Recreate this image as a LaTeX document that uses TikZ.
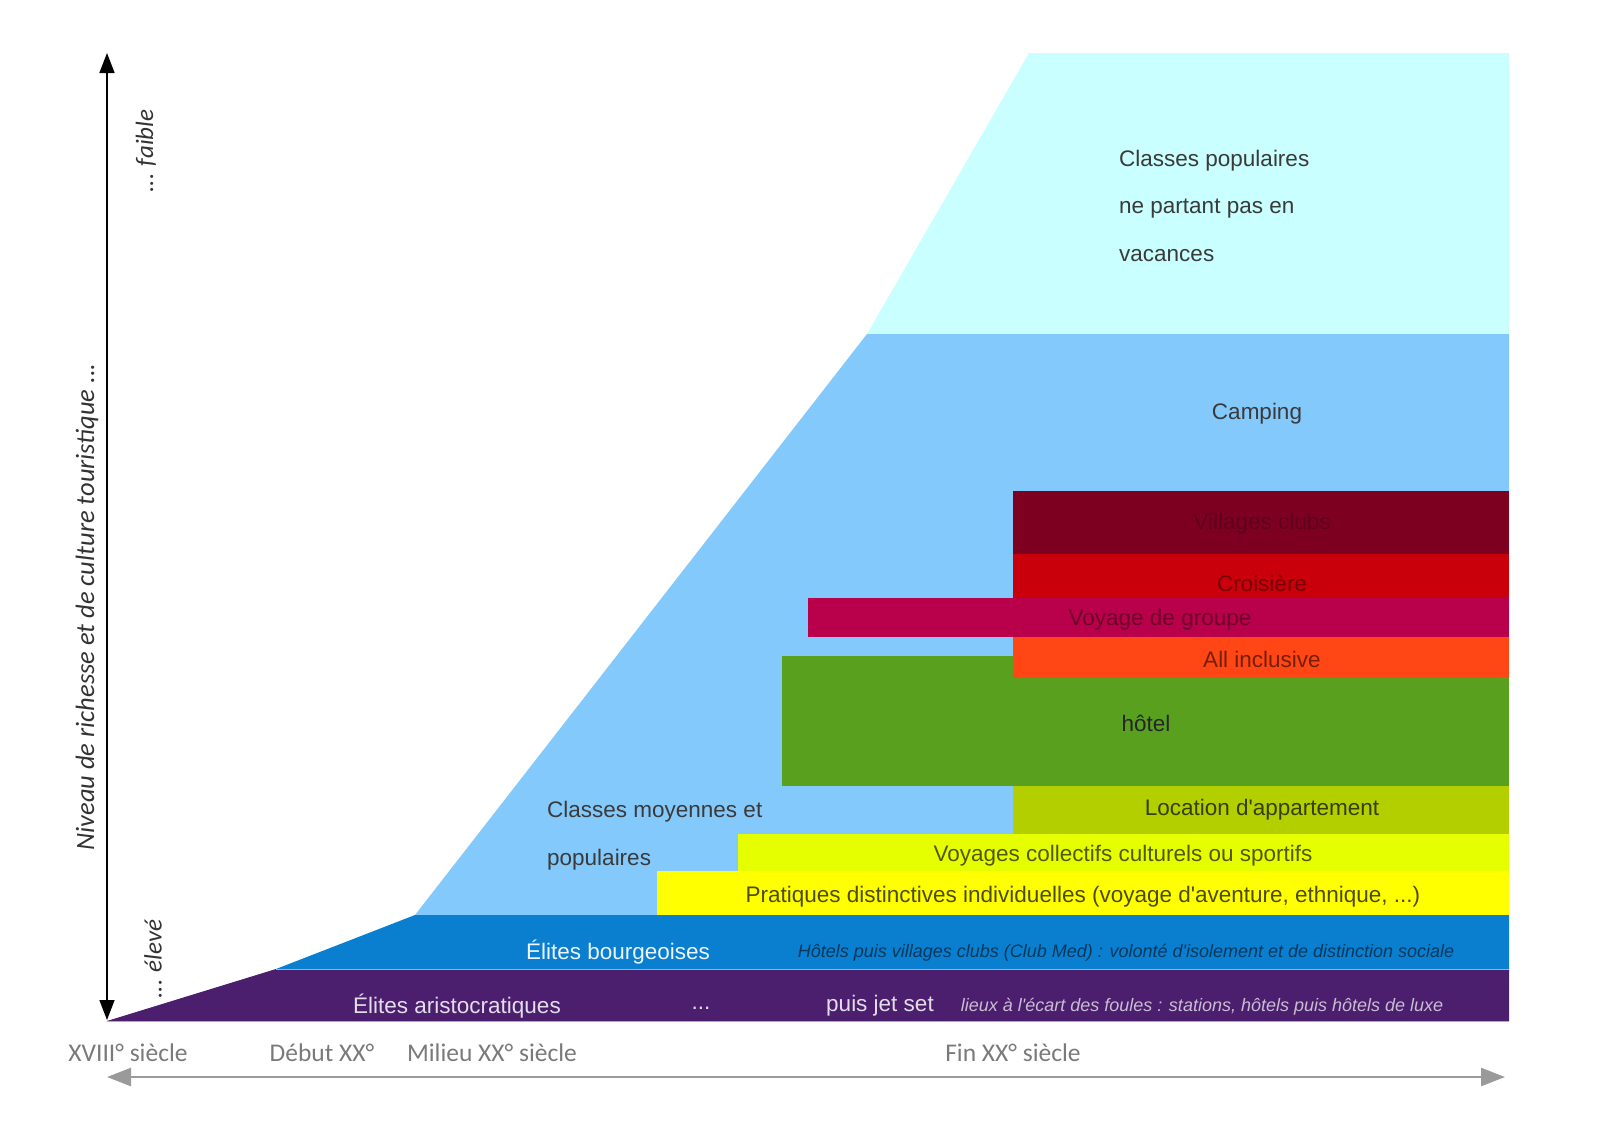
\documentclass[tikz,border=0pt]{standalone}
\usepackage{fontspec}
\setmainfont{Liberation Sans}[Ligatures=TeXOff]
\newfontfamily\axisfont{Carlito}
\usetikzlibrary{arrows.meta}
\definecolor{cCyan}{HTML}{C9FFFF}
\definecolor{cLight}{HTML}{84C9FB}
\definecolor{cBourg}{HTML}{0A7ECF}
\definecolor{cAristo}{HTML}{4B1F6E}
\definecolor{cVillage}{HTML}{7E0021}
\definecolor{cCrois}{HTML}{C9000B}
\definecolor{cGroupe}{HTML}{B9004A}
\definecolor{cAll}{HTML}{FF4614}
\definecolor{cHotel}{HTML}{58A01E}
\definecolor{cLoc}{HTML}{B3CF00}
\definecolor{cColl}{HTML}{E6FF00}
\definecolor{cPrat}{HTML}{FFFF00}
\definecolor{cText}{HTML}{3A3A3A}
\definecolor{cAxis}{HTML}{7A7A7A}
\definecolor{cArrow}{HTML}{9A9A9A}
\begin{document}
\begin{tikzpicture}[x=1pt,y=-1pt,
  lbl/.style={font=\fontsize{22.5}{27}\selectfont, inner sep=0pt, anchor=center, text=cText, yshift=-3pt},
  small/.style={font=\fontsize{18}{21}\selectfont\itshape, inner sep=0pt, anchor=center, yshift=-2pt},
  axlbl/.style={font=\axisfont\fontsize{25.5}{30}\selectfont, inner sep=0pt, anchor=center, text=cAxis, yshift=-1pt},
  vlbl/.style={font=\axisfont\itshape\fontsize{25}{30}\selectfont, inner sep=0pt, anchor=center, rotate=90, text=black!80}]
\useasboundingbox (0,0) rectangle (1600,1127);
\fill[white] (0,0) rectangle (1600,1127);
% bands
\fill[cCyan] (867,334) -- (1029,53) -- (1509,53) -- (1509,334) -- cycle;
\fill[cLight] (415,915) -- (867,334) -- (1509,334) -- (1509,915) -- cycle;
\fill[cBourg] (276,969) -- (415,915) -- (1509,915) -- (1509,969) -- cycle;
\fill[cAristo] (107,1021) -- (276,969) -- (1509,969) -- (1509,1021) -- cycle;
\draw[cAristo!40!white, line width=1pt] (276,969) -- (1509,969);
\draw[cAristo!40!white, line width=1pt] (107,1021) -- (1509,1021);
% rectangles
\fill[cHotel] (782,656) rectangle (1509,786);
\fill[cAll] (1013,636) rectangle (1509,678);
\fill[cGroupe] (808,598) rectangle (1509,637);
\fill[cCrois] (1013,554) rectangle (1509,598);
\fill[cVillage] (1013,491) rectangle (1509,554);
\fill[cLoc] (1013,786) rectangle (1509,834);
\fill[cColl] (738,834) rectangle (1509,871);
\fill[cPrat] (657,871) rectangle (1509,915);
% texts
\node[lbl, anchor=west] (cp1) at (1119,158) {Classes populaires};
\node[lbl, anchor=west] (cp2) at (1119,206) {ne partant pas en};
\node[lbl, anchor=west] (cp3) at (1119,253) {vacances};
\node[lbl] (camp) at (1257,411) {Camping};
\node[lbl, text=cVillage!75!black] (vc) at (1262,521) {Villages clubs};
\node[lbl, text=cCrois!60!black] (cr) at (1262,580) {Croisière};
\node[lbl, text=cGroupe!60!black] (vg) at (1160,617) {Voyage de groupe};
\node[lbl, text=cAll!45!black] (ai) at (1262,656) {All inclusive};
\node[lbl, text=black!85] (ho) at (1146,720) {hôtel};
\node[lbl, text=cLoc!30!black] (lo) at (1262,807) {Location d'appartement};
\node[lbl, text=cColl!35!black] (co) at (1123,853) {Voyages collectifs culturels ou sportifs};
\node[lbl, text=cPrat!30!black] (pr) at (1083,894) {Pratiques distinctives individuelles (voyage d'aventure, ethnique, ...)};
\node[lbl, anchor=west] (cm1) at (547,809) {Classes moyennes et};
\node[lbl, anchor=west] (cm2) at (547,857) {populaires};
\node[lbl, text=white!92!cBourg] (eb) at (618,949) {Élites bourgeoises};
\node[small, text=cBourg!45!black] (ebs) at (1126,951) {Hôtels puis villages clubs (Club Med) : volonté d'isolement et de distinction sociale};
\node[lbl, text=white!85!cAristo] (ea) at (457,1003) {Élites aristocratiques};
\node[lbl, text=white!85!cAristo] (dots) at (701,1005) {...};
\node[lbl, text=white!85!cAristo] (js) at (880,1003) {puis jet set};
\node[small, text=white!70!cAristo] (jss) at (1202,1005) {lieux à l'écart des foules : stations, hôtels puis hôtels de luxe};
% vertical axis
\coordinate (vt) at (107,53);
\coordinate (vb) at (107,1020);
\draw[black, line width=1.5pt, {Triangle[length=20pt,width=15pt]}-{Triangle[length=20pt,width=15pt]}] (vt) -- (vb);
\node[vlbl] (fa) at (146,151) {... faible};
\node[vlbl, font=\axisfont\itshape\fontsize{26.5}{30}\selectfont] (ni) at (87,607) {Niveau de richesse et de culture touristique ...};
\node[vlbl] (el) at (153,959) {... élevé};
% horizontal axis
\coordinate (hl) at (107,1077);
\coordinate (hr) at (1505,1077);
\draw[cArrow, line width=2.5pt, {Triangle[length=24pt,width=18pt]}-{Triangle[length=24pt,width=18pt]}] (hl) -- (hr);
\node[axlbl] (t1) at (128,1052) {XVIII° siècle};
\node[axlbl] (t2) at (322,1052) {Début XX°};
\node[axlbl] (t3) at (492,1052) {Milieu XX° siècle};
\node[axlbl] (t4) at (1013,1052) {Fin XX° siècle};
\end{tikzpicture}
\end{document}
